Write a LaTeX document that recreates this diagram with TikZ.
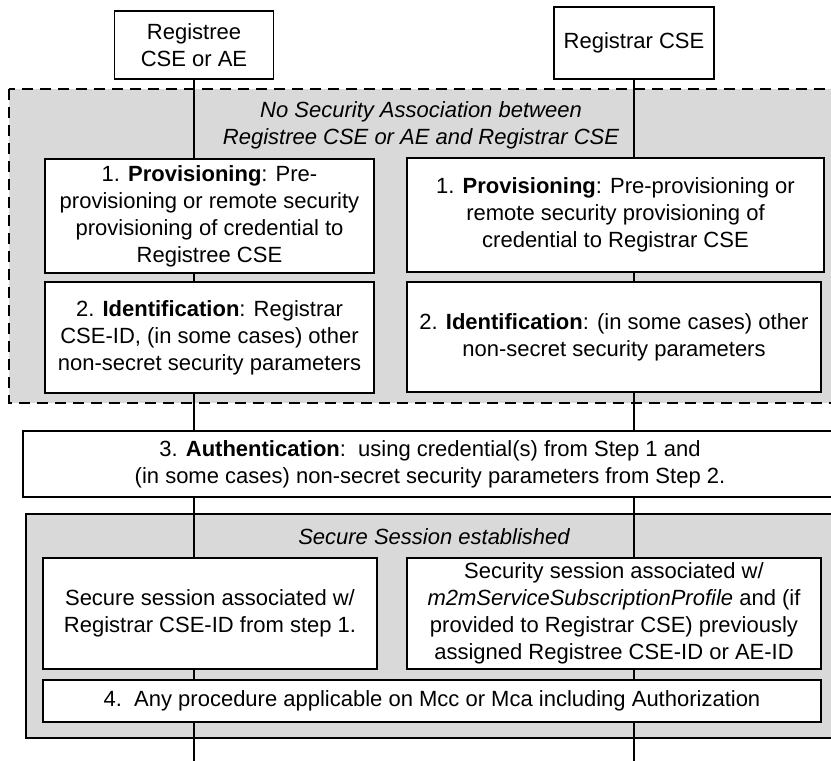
\documentclass[tikz,border=0pt]{standalone}
\usepackage{fontspec}
\setmainfont{Liberation Sans}
\definecolor{zonegray}{RGB}{217,217,217}
\begin{document}
\begin{tikzpicture}[x=0.5pt, y=-0.5pt,
    stepbox/.style={draw, fill=white, line width=0.6pt, align=center, inner sep=0pt,
        font=\fontsize{11pt}{13.5pt}\selectfont},
    zone/.style={fill=zonegray, line width=0.6pt},
    note/.style={align=center, font=\fontsize{11pt}{13.5pt}\selectfont\itshape},
    lifeline/.style={line width=0.6pt}]
    \useasboundingbox (0,0) rectangle (831,761);
    \draw[zone, dash pattern=on 5.5pt off 3.5pt] (9,89) rectangle (850,403);
    \draw[zone] (26,514) rectangle (850,738);
    \node[note] (nosa) at (421,125) {No Security Association between\\Registree CSE or AE and Registrar CSE};
    \node[note] (sess) at (434,537) {Secure Session established};
    \node[stepbox, minimum width=79.5pt, minimum height=34pt] (regee) at (194,45) {Registree\\CSE or AE};
    \node[stepbox, minimum width=80pt, minimum height=36pt] (regar) at (634,43) {Registrar CSE};
    \coordinate (endL) at (194,761);
    \coordinate (endR) at (634,761);
    \draw[lifeline] (regee.south) -- (endL);
    \draw[lifeline] (regar.south) -- (endR);
    \node[stepbox, minimum width=164.5pt, minimum height=57pt] (provL) at (209.5,216)
        {1. \textbf{Provisioning}: Pre-\\provisioning or remote security\\provisioning of credential to\\Registree CSE};
    \node[stepbox, minimum width=208.5pt, minimum height=57pt] (provR) at (615.5,215)
        {1. \textbf{Provisioning}: Pre-provisioning or\\remote security provisioning of\\credential to Registrar CSE};
    \node[stepbox, minimum width=164.5pt, minimum height=55.5pt] (identL) at (209.5,337.5)
        {2. \textbf{Identification}: Registrar\\CSE-ID, (in some cases) other\\non-secret security parameters};
    \node[stepbox, minimum width=207pt, minimum height=55pt] (identR) at (614,337)
        {2. \textbf{Identification}: (in some cases) other\\non-secret security parameters};
    \node[stepbox, minimum width=407pt, minimum height=33pt] (auth) at (430,464)
        {3. \textbf{Authentication}:\ \ using credential(s) from Step 1 and\\(in some cases) non-secret security parameters from Step 2.};
    \node[stepbox, minimum width=167pt, minimum height=55.5pt] (sessL) at (210,613.5)
        {Secure session associated w/\\Registrar CSE-ID from step 1.};
    \node[stepbox, minimum width=207pt, minimum height=55.5pt] (sessR) at (614,613.5)
        {Security session associated w/\\\textit{m2mServiceSubscriptionProfile} and (if\\provided to Registrar CSE) previously\\assigned Registree CSE-ID or AE-ID};
    \node[stepbox, minimum width=389pt, minimum height=21pt] (proc) at (432,701)
        {4.\ \ Any procedure applicable on Mcc or Mca including Authorization};
\end{tikzpicture}
\end{document}
